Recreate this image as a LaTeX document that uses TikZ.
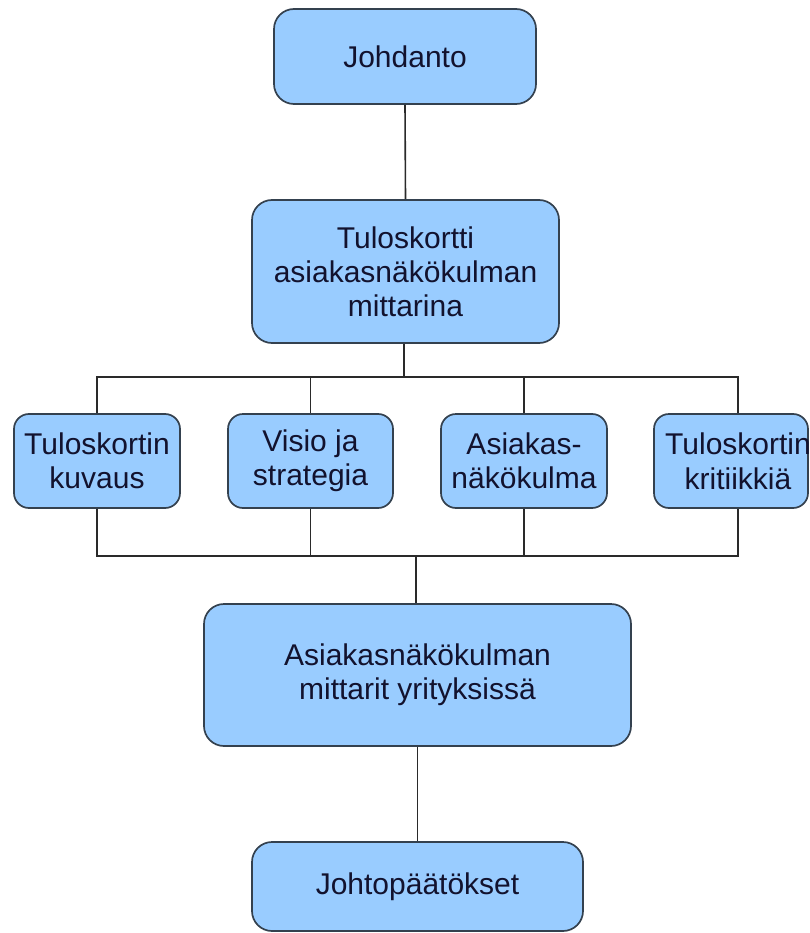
\documentclass[tikz,border=0pt]{standalone}
\usepackage{fontspec}
\setmainfont{Liberation Sans}
\definecolor{boxfill}{HTML}{99CCFF}
\definecolor{boxline}{HTML}{34414F}
\definecolor{wire}{HTML}{2A2A2A}
\definecolor{ink}{HTML}{12122E}
\begin{document}
\begin{tikzpicture}[x=1pt,y=-1pt,
  topic/.style={draw=boxline, line width=1.7pt, fill=boxfill, rounded corners=20pt,
    inner sep=0pt, font=\fontsize{30}{34}\selectfont, text=ink, align=center},
  subtopic/.style={topic, rounded corners=15pt, minimum width=166pt, minimum height=94pt},
  link/.style={draw=wire, line width=1.6pt}]
  \useasboundingbox (0,0) rectangle (809,933);
  \begin{scope}
  \clip (0,0) rectangle (809,933);

  % main column
  \node[topic, minimum width=262pt, minimum height=95pt] (johd) at (405,56.5) {Johdanto};
  \node[topic, minimum width=307pt, minimum height=143pt] (tulos) at (405.5,271.5)
    {Tuloskortti\\asiakasnäkökulman\\mittarina};

  % four sub-topics
  \node[subtopic] (k1) at (97,461) {Tuloskortin\\kuvaus};
  \node[subtopic, minimum width=165pt] (k2) at (310.5,461) {Visio ja\\strategia};
  \node[subtopic] (k3) at (524,461) {Asiakas-\\näkökulma};
  \node[subtopic, minimum width=154pt] (k4) at (731,461) {};
  \node[inner sep=0pt, font=\fontsize{30}{35}\selectfont, text=ink, align=center]
    (k4t) at (738,461) {Tuloskortin\\kritiikkiä};

  \node[topic, minimum width=427pt, minimum height=142pt] (mitt) at (417.5,675)
    {Asiakasnäkökulman\\mittarit yrityksissä};
  \node[topic, minimum width=331pt, minimum height=89pt] (johto) at (417.5,886.5)
    {Johtopäätökset};

  % junction points of the two bus lines
  \coordinate (busA) at (404,377);
  \coordinate (busB) at (416,556);

  % connectors
  \draw[link] (johd.south) -- (tulos.north);
  \draw[link] (tulos.south -| busA) -- (busA);
  \draw[link] (k1.north) -- (k1.north |- busA) -- (k4t.north |- busA) -- (k4t |- k4.north);
  \draw[link] (k2.north) -- (k2.north |- busA);
  \draw[link] (k3.north) -- (k3.north |- busA);
  \draw[link] (k1.south) -- (k1.south |- busB) -- (k4t.south |- busB) -- (k4t |- k4.south);
  \draw[link] (k2.south) -- (k2.south |- busB);
  \draw[link] (k3.south) -- (k3.south |- busB);
  \draw[link] (busB) -- (busB |- mitt.north);
  \draw[link] (mitt.south -| johto.north) -- (johto.north);
  \end{scope}
\end{tikzpicture}
\end{document}
